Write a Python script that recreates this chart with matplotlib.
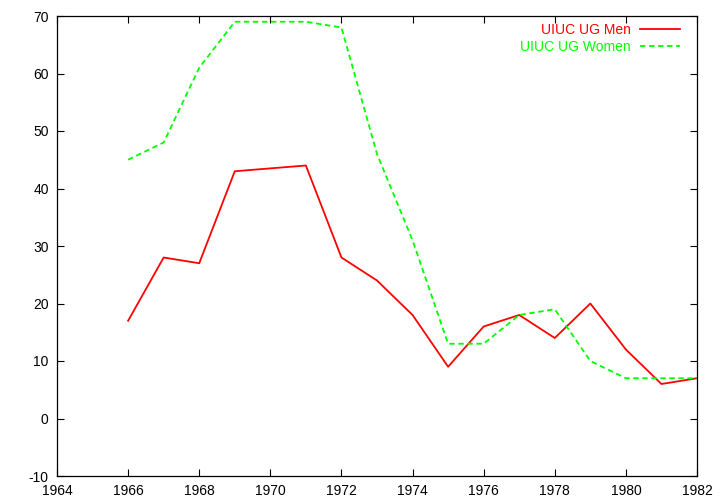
import matplotlib
matplotlib.use("Agg")
import matplotlib.pyplot as plt

plt.rcParams['font.family'] = ['Liberation Sans', 'DejaVu Sans']
plt.rcParams['axes.unicode_minus'] = False

men_years = [1966, 1967, 1968, 1969, 1971, 1972, 1973, 1974, 1975, 1976, 1977, 1978, 1979, 1980, 1981, 1982]
men = [17, 28, 27, 43, 44, 28, 24, 18, 9, 16, 18, 14, 20, 12, 6, 7]
women_years = [1966, 1967, 1968, 1969, 1970, 1971, 1972, 1973, 1974, 1975, 1976, 1977, 1978, 1979, 1980, 1981, 1982]
women = [45, 48, 61, 69, 69, 69, 68, 46, 31, 13, 13, 18, 19, 10, 7, 7, 7]

fig = plt.figure(figsize=(7.2, 5.04), dpi=100)
ax = fig.add_axes([57/720, 28/504, 640/720, 460/504])

ax.plot(men_years, men, color="#ff0000", lw=1.3, label="UIUC UG Men")
ax.plot(women_years, women, color="#00ff00", lw=1.3, ls=(0, (3, 2)), label="UIUC UG Women")

ax.set_xlim(1964, 1982)
ax.set_ylim(-10, 70)
ax.set_xticks(range(1964, 1983, 2))
ax.set_yticks(range(-10, 71, 10))
ax.tick_params(direction="in", top=True, right=True, labelsize=10, length=5, pad=6)
for s in ax.spines.values():
    s.set_linewidth(0.9)

leg = ax.legend(loc="upper right", bbox_to_anchor=(1 - 10/640, 1), frameon=False,
                markerfirst=False, fontsize=10, handlelength=2.9, labelspacing=0.2,
                borderaxespad=0.1, handletextpad=0.65)
for text, line in zip(leg.get_texts(), leg.get_lines()):
    text.set_color(line.get_color())

fig.savefig("out.png", dpi=100)
